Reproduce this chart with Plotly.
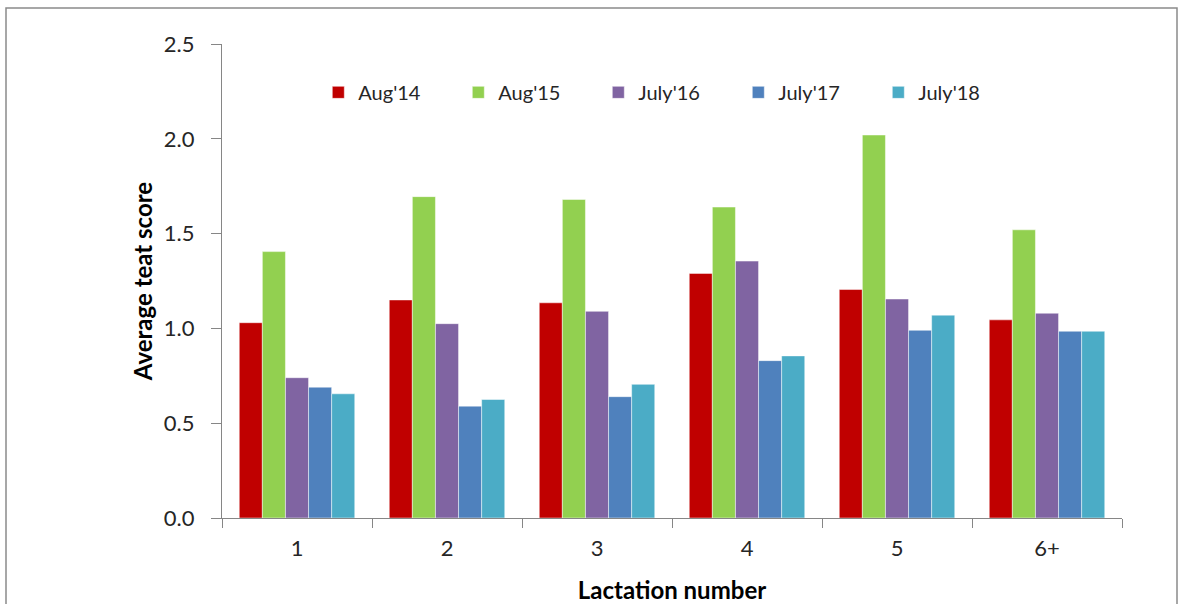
import plotly.graph_objects as go

categories = ["1", "2", "3", "4", "5", "6+"]
series_names = ["Aug'14", "Aug'15", "July'16", "July'17", "July'18"]
aug14 = [1.03, 1.15, 1.135, 1.29, 1.205, 1.045]
aug15 = [1.405, 1.695, 1.68, 1.64, 2.02, 1.52]
july16 = [0.74, 1.025, 1.09, 1.355, 1.155, 1.08]
july17 = [0.69, 0.59, 0.64, 0.83, 0.99, 0.985]
july18 = [0.655, 0.625, 0.705, 0.855, 1.07, 0.985]
colors = ["#C00000", "#92D050", "#8064A2", "#4F81BD", "#4BACC6"]
yticks = [0.0, 0.5, 1.0, 1.5, 2.0, 2.5]

FONT = "Lato, 'Open Sans', sans-serif"

fig = go.Figure()
for name, vals, col in zip(series_names, [aug14, aug15, july16, july17, july18], colors):
    fig.add_trace(go.Bar(x=categories, y=vals, name=name,
                         marker=dict(color=col, line=dict(color="rgba(255,255,255,0.6)", width=0.8))))

fig.update_layout(
    width=1185, height=604,
    margin=dict(l=222, r=63, t=44, b=86),
    paper_bgcolor="white", plot_bgcolor="white",
    barmode="group", bargap=0.23, bargroupgap=0,
    font=dict(family=FONT, color="#262626"),
    legend=dict(orientation="h", x=0.107, y=0.898, xanchor="left", yanchor="middle",
                font=dict(size=20, family=FONT, color="#262626"),
                entrywidth=95, entrywidthmode="pixels", bgcolor="rgba(0,0,0,0)"),
    xaxis=dict(showline=True, linecolor="#868686", linewidth=1.3, ticks="outside",
               tickson="boundaries", ticklen=9, tickcolor="#868686", ticklabelstandoff=10,
               automargin=False,
               tickfont=dict(size=22, family=FONT, color="#262626"),
               title=dict(text="<b>Lactation number</b>", font=dict(size=24, family=FONT, color="#000"), standoff=22),
               showgrid=False),
    yaxis=dict(range=[0, 2.5], tickvals=yticks, ticktext=[f"{v:.1f}" for v in yticks],
               showline=True, linecolor="#868686", linewidth=1.3, ticks="outside",
               ticklen=10, tickcolor="#868686", ticklabelstandoff=12,
               showgrid=False, zeroline=False, automargin=False,
               tickfont=dict(size=22, family=FONT, color="#262626"),
               title=dict(text="<b>Average teat score</b>", font=dict(size=24, family=FONT, color="#000"), standoff=4)),
    shapes=[dict(type="rect", xref="paper", yref="paper",
                 x0=(6 - 222) / 900, x1=(1177 - 222) / 900,
                 y0=(518 - 640) / 474, y1=(518 - 8) / 474,
                 line=dict(color="#8a8a8a", width=1.5), fillcolor="rgba(0,0,0,0)", layer="below")],
)

fig.write_html("out.html", config={"displayModeBar": False},
               post_script="document.body.style.margin='0';")
